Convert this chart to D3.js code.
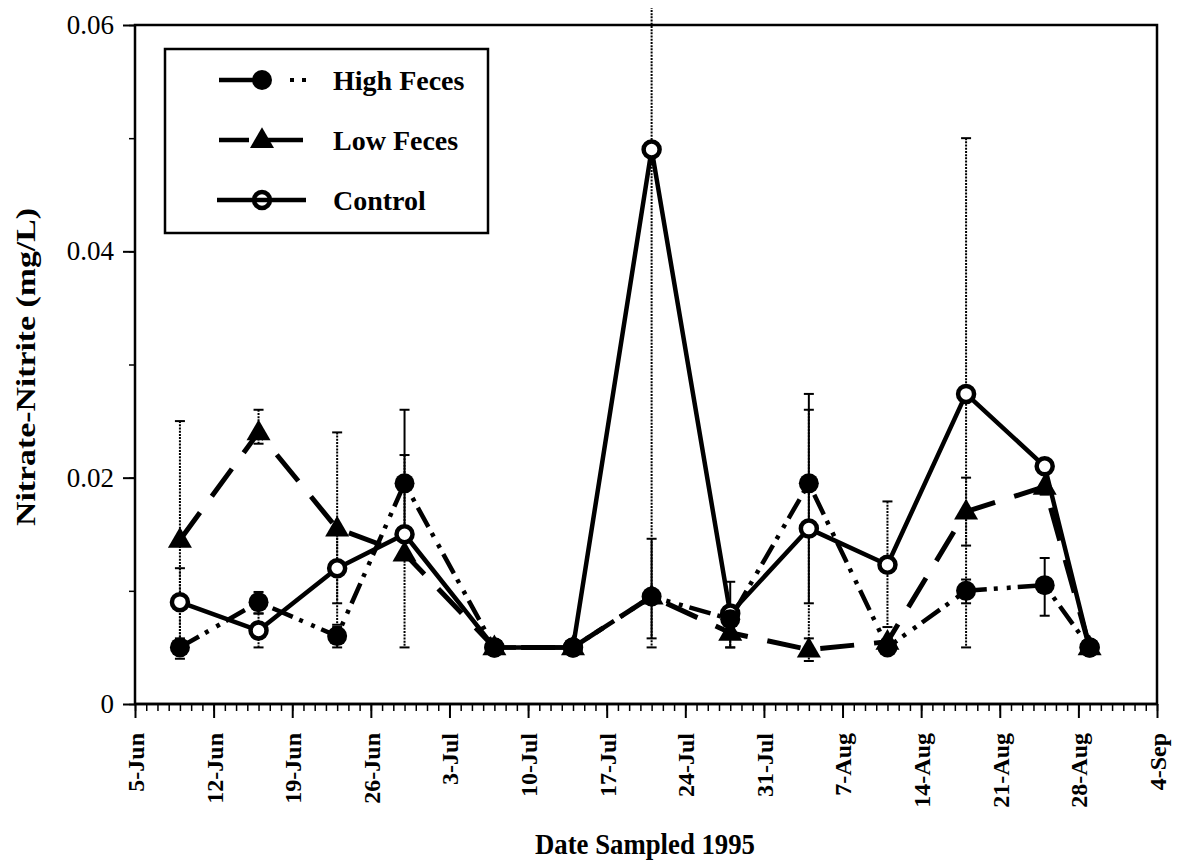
<!DOCTYPE html>
<html>
<head>
<meta charset="utf-8">
<script src="https://cdn.jsdelivr.net/npm/d3@7"></script>
<style>
  html, body { margin: 0; padding: 0; background: #fff; }
  svg { display: block; }
</style>
</head>
<body>
<script>
// Sampling dates (1995) and mean nitrate-nitrite concentrations, mg/L
const sampleDates = ["1995-06-09", "1995-06-16", "1995-06-23", "1995-06-29", "1995-07-07",
  "1995-07-14", "1995-07-21", "1995-07-28", "1995-08-04", "1995-08-11",
  "1995-08-18", "1995-08-25", "1995-08-29"];

const highFeces     = [0.005, 0.009, 0.006, 0.0195, 0.005, 0.005, 0.0095, 0.0075, 0.0195, 0.005, 0.0100, 0.0105, 0.005];
// error bar ends (low, high); null where no bar is drawn
const highFecesLow  = [null, 0.008, 0.005, 0.013, null, null, 0.0058, 0.005, 0.0089, null, 0.0089, 0.0078, null];
const highFecesHigh = [null, 0.0099, 0.0068, 0.026, null, null, 0.0146, 0.0108, 0.0274, null, 0.011, 0.0129, null];

const lowFeces      = [0.0145, 0.024, 0.0155, 0.0133, 0.005, 0.005, 0.0095, 0.0063, 0.0048, 0.0055, 0.0170, 0.0192, 0.005];
const lowFecesLow   = [0.004, 0.023, 0.007, 0.005, null, null, null, 0.005, 0.0038, null, 0.014, 0.0185, null];
const lowFecesHigh  = [0.025, 0.026, 0.024, 0.022, null, null, null, 0.007, 0.0058, null, 0.020, 0.0205, null];

const control       = [0.009, 0.0065, 0.012, 0.015, 0.005, 0.005, 0.049, 0.008, 0.0155, 0.0123, 0.0274, 0.021, 0.005];
const controlLow    = [0.0058, 0.005, 0.0089, null, null, null, 0.005, null, 0.005, 0.0068, 0.005, null, null];
const controlHigh   = [0.012, 0.008, 0.015, null, null, null, 0.093, null, 0.026, 0.0179, 0.050, null, null];

const seriesNames = ["High Feces", "Low Feces", "Control"];
const yTickValues = [0, 0.02, 0.04, 0.06];
const xDomain = ["1995-06-05", "1995-09-04"];

const W = 1181, H = 861;
const parse = d3.utcParse("%Y-%m-%d");
const x = d3.scaleUtc().domain(xDomain.map(parse)).range([135, 1157]);
const y = d3.scaleLinear().domain([0, 0.06]).range([704, 25]);

const svg = d3.select("body").append("svg").attr("width", W).attr("height", H);
const serif = "'Liberation Serif', 'Times New Roman', serif";

function records(vals, lows, highs) {
  return sampleDates.map((d, i) => ({ date: parse(d), v: vals[i], lo: lows[i], hi: highs[i] }));
}
const series = [
  { name: seriesNames[0], kind: "filled", data: records(highFeces, highFecesLow, highFecesHigh),
    dash: "22,7,4,9,4,7", width: 4.5, errDash: "none" },
  { name: seriesNames[1], kind: "triangle", data: records(lowFeces, lowFecesLow, lowFecesHigh),
    dash: "34,20", width: 5, errDash: "2,1.2" },
  { name: seriesNames[2], kind: "open", data: records(control, controlLow, controlHigh),
    dash: null, width: 4.5, errDash: "2,1.2" }
];

// Error bars may run a little past the top of the frame
svg.append("defs").append("clipPath").attr("id", "plotclip")
  .append("rect").attr("x", 120).attr("y", 8).attr("width", 1050).attr("height", 700);

const errG = svg.append("g").attr("clip-path", "url(#plotclip)");
series.forEach(s => {
  s.data.filter(d => d.lo != null).forEach(d => {
    const cx = x(d.date);
    const y1 = y(d.hi), y0 = y(d.lo);
    errG.append("line").attr("x1", cx).attr("x2", cx).attr("y1", y1).attr("y2", y0)
      .attr("stroke", "#000").attr("stroke-width", 2)
      .attr("stroke-dasharray", s.errDash);
    [y1, y0].forEach(yy => {
      errG.append("line").attr("x1", cx - 5).attr("x2", cx + 5).attr("y1", yy).attr("y2", yy)
        .attr("stroke", "#000").attr("stroke-width", 2);
    });
  });
});

// Series lines
const line = d3.line().x(d => x(d.date)).y(d => y(d.v));
[series[1], series[0], series[2]].forEach(s => {
  svg.append("path").datum(s.data).attr("d", line)
    .attr("fill", "none").attr("stroke", "#000")
    .attr("stroke-width", s.width)
    .attr("stroke-dasharray", s.dash)
    .attr("stroke-linejoin", "round");
});

// Markers
function marker(g, kind, cx, cy, hollow) {
  if (kind === "filled") {
    g.append("circle").attr("cx", cx).attr("cy", cy).attr("r", 10).attr("fill", "#000");
  } else if (kind === "triangle") {
    g.append("path").attr("d", d3.symbol(d3.symbolTriangle, 250)())
      .attr("transform", `translate(${cx},${cy + 1})`).attr("fill", "#000");
  } else {
    g.append("circle").attr("cx", cx).attr("cy", cy).attr("r", 8)
      .attr("fill", hollow ? "none" : "#fff").attr("stroke", "#000").attr("stroke-width", 4.5);
  }
}
const markG = svg.append("g");
[series[2], series[1], series[0]].forEach(s => {
  s.data.forEach(d => marker(markG, s.kind, x(d.date), y(d.v)));
});

// Frame
svg.append("rect").attr("x", 135).attr("y", 25).attr("width", 1022).attr("height", 679)
  .attr("fill", "none").attr("stroke", "#000").attr("stroke-width", 2.5);

// X axis: daily minor ticks, weekly (Monday) labelled ticks
svg.append("g").attr("transform", "translate(0,704)")
  .call(d3.axisBottom(x).ticks(d3.utcDay.every(1)).tickSize(7).tickFormat(""))
  .call(g => g.select(".domain").remove())
  .call(g => g.selectAll("line").attr("stroke-width", 1.5));
const weekTicks = d3.utcMonday.range(parse(xDomain[0]), d3.utcDay.offset(parse(xDomain[1]), 1));
const fmt = d3.utcFormat("%-d-%b");
const major = svg.append("g").attr("transform", "translate(0,704)");
major.call(d3.axisBottom(x).tickValues(weekTicks).tickSize(14).tickFormat(fmt))
  .call(g => g.select(".domain").attr("stroke-width", 2.5).attr("d", "M135,0H1157"))
  .call(g => g.selectAll("line").attr("stroke-width", 2));
major.selectAll("text")
  .attr("font-family", serif).attr("font-size", 24).attr("font-weight", "bold").attr("fill", "#000")
  .attr("transform", "rotate(-90)")
  .attr("text-anchor", "end").attr("dy", "0.35em").attr("x", -29).attr("y", 0);

// Y axis
svg.append("g").attr("transform", "translate(135,0)")
  .call(d3.axisLeft(y).ticks(6).tickSize(6).tickFormat(""))
  .call(g => g.select(".domain").remove())
  .call(g => g.selectAll("line").attr("stroke-width", 1.5));
const yMajor = svg.append("g").attr("transform", "translate(135,0)");
yMajor.call(d3.axisLeft(y).tickValues(yTickValues).tickSize(12).tickPadding(9)
  .tickFormat(d => d === 0 ? "0" : d3.format(".2f")(d)))
  .call(g => g.select(".domain").remove())
  .call(g => g.selectAll("line").attr("stroke-width", 2));
yMajor.selectAll("text").attr("font-family", serif).attr("font-size", 27).attr("fill", "#000");

// Axis titles
svg.append("text").attr("x", 645).attr("y", 843).attr("dy", "0.35em").attr("text-anchor", "middle")
  .attr("font-family", serif).attr("font-weight", "bold").attr("font-size", 30)
  .attr("textLength", 220).attr("lengthAdjust", "spacingAndGlyphs")
  .text("Date Sampled 1995");
svg.append("text").attr("transform", "translate(25,367) rotate(-90)").attr("dy", "0.35em")
  .attr("text-anchor", "middle")
  .attr("font-family", serif).attr("font-weight", "bold").attr("font-size", 28)
  .attr("textLength", 318).attr("lengthAdjust", "spacingAndGlyphs")
  .text("Nitrate-Nitrite (mg/L)");

// Legend
const leg = svg.append("g");
leg.append("rect").attr("x", 165).attr("y", 49).attr("width", 323).attr("height", 184)
  .attr("fill", "#fff").attr("stroke", "#000").attr("stroke-width", 2.5);
const legendRows = [80, 140, 200];
series.forEach((s, i) => {
  const ly = legendRows[i];
  if (s.kind === "filled") {
    leg.append("line").attr("x1", 219).attr("x2", 260).attr("y1", ly).attr("y2", ly)
      .attr("stroke", "#000").attr("stroke-width", 4.5);
    [292, 304].forEach(dx => leg.append("rect").attr("x", dx - 2).attr("y", ly - 2)
      .attr("width", 4).attr("height", 4).attr("fill", "#000"));
  } else if (s.kind === "triangle") {
    leg.append("line").attr("x1", 219).attr("x2", 305).attr("y1", ly).attr("y2", ly)
      .attr("stroke", "#000").attr("stroke-width", 4.5).attr("stroke-dasharray", "30,14,40");
  } else {
    leg.append("line").attr("x1", 217).attr("x2", 306).attr("y1", ly).attr("y2", ly)
      .attr("stroke", "#000").attr("stroke-width", 4.5);
  }
  marker(leg, s.kind, 262, ly, true);
  leg.append("text").attr("x", 333).attr("y", ly).attr("dy", "0.35em")
    .attr("font-family", serif).attr("font-weight", "bold").attr("font-size", 28)
    .text(s.name);
});
</script>
</body>
</html>
